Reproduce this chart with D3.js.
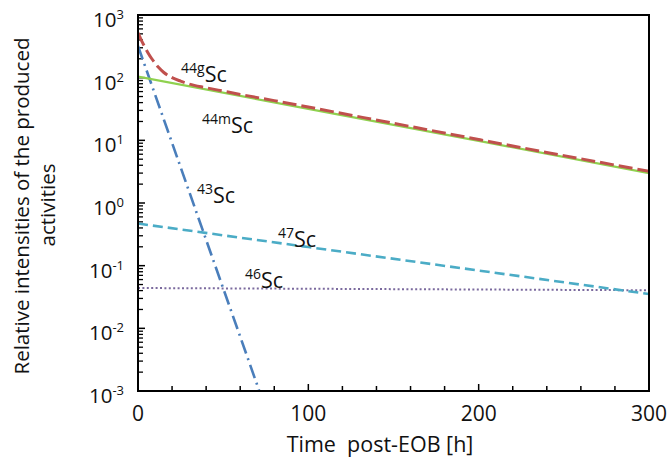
<!DOCTYPE html>
<html>
<head>
<meta charset="utf-8">
<script src="https://cdn.jsdelivr.net/npm/d3@7"></script>
<style>
  html, body { margin: 0; padding: 0; background: #fff; }
  svg { display: block; }
  text { font-family: "Open Sans", "DejaVu Sans", sans-serif; fill: #111; }
</style>
</head>
<body>
<svg id="chart" width="671" height="457"></svg>
<script>
// ---- data ----
const xTickValues = [0, 100, 200, 300];
const xMinorTicks = [20, 40, 60, 80, 120, 140, 160, 180, 220, 240, 260, 280];
const yTickExponents = [-3, -2, -1, 0, 1, 2, 3];

const tSc44g = [0, 2, 4, 6, 8, 10, 12, 15, 20, 25, 30, 40, 50, 60, 80, 100, 150, 200, 250, 300];
const vSc44g = [520, 395, 309, 246, 202, 170, 146, 122, 100, 88, 79, 69, 61, 54, 43, 34, 18.7, 10.3, 5.7, 3.2];

const tSc44m = [0, 100, 200, 300];
const vSc44m = [104, 31.8, 9.8, 3.0];

const tSc43 = [0, 10, 20, 30, 40, 50, 60, 70, 72];
const vSc43 = [320, 53.9, 9.09, 1.53, 0.258, 0.0436, 0.00736, 0.00124, 0.00087];

const tSc47 = [0, 100, 200, 300];
const vSc47 = [0.47, 0.198, 0.0836, 0.0353];

const tSc46 = [0, 300];
const vSc46 = [0.044, 0.0405];

const seriesLabels = [
  { sup: "44g", x: 181, y: 82 },
  { sup: "44m", x: 202, y: 133 },
  { sup: "43",  x: 197, y: 203 },
  { sup: "47",  x: 278, y: 247 },
  { sup: "46",  x: 245, y: 288 }
];

// ---- layout ----
const svg = d3.select("#chart");
const L = 138, R = 649, T = 15, B = 391;

const x = d3.scaleLinear().domain([0, 300]).range([L, R]);
const y = d3.scaleLog().domain([1e-3, 1e3]).range([B, T]);

const defs = svg.append("defs");
defs.append("clipPath").attr("id", "plotclip")
  .append("rect").attr("x", L).attr("y", T).attr("width", R - L).attr("height", B - T);

// ---- y ticks (inside) ----
const yMinor = [];
for (let e = -3; e < 3; e++) {
  for (let m = 2; m <= 9; m++) yMinor.push(m * Math.pow(10, e));
}
svg.append("g").selectAll("line.ymin").data(yMinor).join("line")
  .attr("x1", L).attr("x2", L + 5)
  .attr("y1", d => y(d)).attr("y2", d => y(d))
  .attr("stroke", "#000").attr("stroke-width", 1.3);
svg.append("g").selectAll("line.ymaj").data(yTickExponents).join("line")
  .attr("x1", L).attr("x2", L + 7)
  .attr("y1", d => y(Math.pow(10, d))).attr("y2", d => y(Math.pow(10, d)))
  .attr("stroke", "#000").attr("stroke-width", 1.5);

// y tick labels
const yl = svg.append("g").selectAll("text").data(yTickExponents).join("text")
  .attr("x", 124)
  .attr("y", d => y(Math.pow(10, d)) + 12)
  .attr("text-anchor", "end")
  .style("font-size", "20.5px");
yl.append("tspan").text("10");
yl.append("tspan").text(d => String(d))
  .style("font-size", "13px").attr("dy", -8);

// ---- x ticks (inside) ----
svg.append("g").selectAll("line").data(xMinorTicks).join("line")
  .attr("x1", d => x(d)).attr("x2", d => x(d))
  .attr("y1", B).attr("y2", B - 5)
  .attr("stroke", "#000").attr("stroke-width", 1.5);
svg.append("g").selectAll("line").data(xTickValues).join("line")
  .attr("x1", d => x(d)).attr("x2", d => x(d))
  .attr("y1", B).attr("y2", B - 7)
  .attr("stroke", "#000").attr("stroke-width", 1.5);
svg.append("g").selectAll("text").data(xTickValues).join("text")
  .attr("x", d => x(d)).attr("y", 421)
  .attr("text-anchor", "middle")
  .style("font-size", "21px")
  .text(d => d);

// ---- series ----
const line = d3.line().x(d => x(d[0])).y(d => y(d[1]));
const zipS = (ts, vs) => ts.map((t, i) => [t, vs[i]]);
const g = svg.append("g").attr("clip-path", "url(#plotclip)");

g.append("path").datum(zipS(tSc46, vSc46)).attr("d", line)
  .attr("fill", "none").attr("stroke", "#7b6a9e").attr("stroke-width", 2)
  .attr("stroke-dasharray", "2,2.4");
g.append("path").datum(zipS(tSc47, vSc47)).attr("d", line)
  .attr("fill", "none").attr("stroke", "#4bacc6").attr("stroke-width", 2.6)
  .attr("stroke-dasharray", "10,5");
g.append("path").datum(zipS(tSc43, vSc43)).attr("d", line)
  .attr("fill", "none").attr("stroke", "#4a7ebb").attr("stroke-width", 2.6)
  .attr("stroke-dasharray", "14,5,2,5");
g.append("path").datum(zipS(tSc44m, vSc44m)).attr("d", line)
  .attr("fill", "none").attr("stroke", "#8fd14f").attr("stroke-width", 2.2);
g.append("path").datum(zipS(tSc44g, vSc44g)).attr("d", d3.line().curve(d3.curveMonotoneX).x(d => x(d[0])).y(d => y(d[1])))
  .attr("fill", "none").attr("stroke", "#c0504d").attr("stroke-width", 3)
  .attr("stroke-dasharray", "14,5");

// ---- frame ----
svg.append("rect").attr("x", L).attr("y", T).attr("width", R - L).attr("height", B - T)
  .attr("fill", "none").attr("stroke", "#000").attr("stroke-width", 2);

// ---- series labels ----
const sl = svg.append("g").selectAll("text").data(seriesLabels).join("text")
  .attr("x", d => d.x).attr("y", d => d.y);
sl.append("tspan").text(d => d.sup).style("font-size", "14px").attr("dy", -9);
sl.append("tspan").text("Sc").style("font-size", "21.5px").attr("dy", 9);

// ---- axis titles ----
svg.append("text").attr("x", 380).attr("y", 452)
  .attr("text-anchor", "middle").style("font-size", "21.5px").style("white-space", "pre")
  .text("Time  post-EOB [h]");

svg.append("text").attr("transform", "translate(29,206) rotate(-90)")
  .attr("text-anchor", "middle").style("font-size", "20.5px")
  .text("Relative intensities of the produced");
svg.append("text").attr("transform", "translate(55,205) rotate(-90)")
  .attr("text-anchor", "middle").style("font-size", "20.5px")
  .text("activities");
</script>
</body>
</html>
